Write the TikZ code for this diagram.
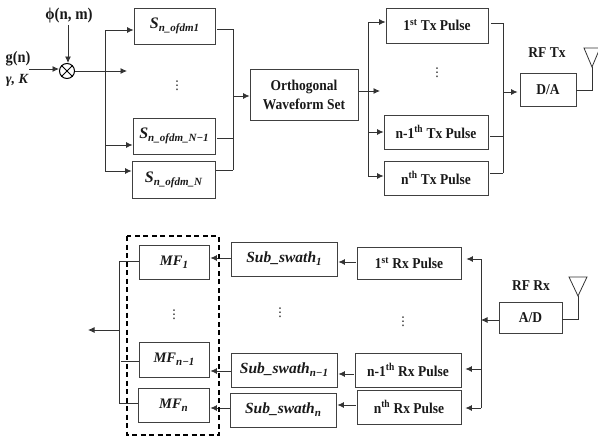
\documentclass[tikz,border=0pt]{standalone}
\usepackage{fontspec}
\setmainfont[FakeStretch=0.9]{Liberation Serif}
\newfontfamily\mthfont{Liberation Serif}
\newfontfamily\dotfont{DejaVu Sans}
\usetikzlibrary{arrows.meta,calc}
\tikzset{
  x=1pt,y=-1pt,
  wire/.style={draw=black!80,line width=0.8pt},
  arrowline/.style={wire,-{Latex[length=6.5pt,width=6pt]}},
  lbl/.style={inner sep=0pt,font=\fontsize{15}{17}\selectfont\bfseries,align=center,text=black!90},
  vdotsmark/.style={inner sep=0pt,font=\dotfont\fontsize{12}{12}\selectfont,text=black!95},
  boxframe/.style={draw=black!75,line width=0.9pt,inner sep=0pt,font=\fontsize{15}{17}\selectfont\bfseries,align=center,text=black!90},
}
\newcommand{\bx}[6]{%
  \pgfmathsetmacro{\bw}{#4-#2}\pgfmathsetmacro{\bh}{#5-#3}%
  \node[boxframe,minimum width=\bw pt,minimum height=\bh pt] (#1) at ({(#2+#4)/2},{(#3+#5)/2}) {#6};}
\newcommand{\mth}[3]{{\mthfont\bfseries\itshape\fontsize{#1}{17}\selectfont #2\raisebox{-3pt}{\fontsize{11}{12}\selectfont #3}}}
\begin{document}
\begin{tikzpicture}
\useasboundingbox (0,0) rectangle (598,439);
\clip (0,0) rectangle (598,439);
% upper row boxes
\bx{sa}{134}{8}{215}{44}{\mth{16}{S}{n\_ofdm1}}
\bx{sb}{133}{118}{215}{154}{\mth{16}{S}{n\_ofdm\_N−1}}
\bx{sc}{132}{161}{215}{198}{\mth{16}{S}{n\_ofdm\_N}}
\bx{orth}{250}{69}{358}{120}{Orthogonal\\[2pt]Waveform Set}
\bx{txa}{386}{8}{488}{43}{1\textsuperscript{st} Tx Pulse}
\bx{txb}{384}{115}{488}{149}{n-1\textsuperscript{th} Tx Pulse}
\bx{txc}{384}{161}{488}{195}{n\textsuperscript{th} Tx Pulse}
\bx{da}{520}{73}{576}{106}{D/A}
% lower row boxes
\bx{mfa}{139}{245}{209}{279}{\mth{14.5}{MF}{1}}
\bx{mfb}{139}{342}{209}{377}{\mth{14.5}{MF}{n−1}}
\bx{mfc}{138}{388}{209}{422}{\mth{14.5}{MF}{n}}
\bx{suba}{231}{242}{337}{276}{\mth{15.5}{Sub\_swath}{1}}
\bx{subb}{231}{353}{337}{387}{\mth{15.5}{Sub\_swath}{n−1}}
\bx{subc}{230}{393}{336}{427}{\mth{15.5}{Sub\_swath}{n}}
\bx{rxa}{357}{247}{461}{279}{1\textsuperscript{st} Rx Pulse}
\bx{rxb}{355}{353}{461}{387}{n-1\textsuperscript{th} Rx Pulse}
\bx{rxc}{357}{390}{461}{424}{n\textsuperscript{th} Rx Pulse}
\bx{ad}{499}{302}{562}{333}{A/D}
% labels
\node[lbl] (gn) at (18,59) {\fontsize{16}{18}\selectfont g(n)};
\node[lbl] (gk) at (17,80) {{\mthfont\bfseries\itshape\fontsize{14}{16}\selectfont γ, K}};
\node[lbl] (phi) at (69,16) {\fontsize{16.5}{18}\selectfont ϕ(n, m)};
\node[lbl] (rft) at (547,53) {RF Tx};
\node[lbl] (rfr) at (531,286) {RF Rx};
\node[vdotsmark] (da1) at (177,86) {⋮};
\node[vdotsmark] (da2) at (437,73) {⋮};
\node[vdotsmark] (da3) at (174,315) {⋮};
\node[vdotsmark] (da4) at (280,313) {⋮};
\node[vdotsmark] (da5) at (403,322) {⋮};
% mixer
\node[circle,draw=black,line width=1pt,minimum size=15pt,inner sep=0pt] (mix) at (67,71) {};
\draw[black,line width=1pt] (mix.45) -- (mix.225) (mix.135) -- (mix.315);
% free points
\coordinate (gend) at (29,69);
\coordinate (phiend) at (68,25);
\coordinate (midA) at (127,71);
\coordinate (busAt) at (105,30);
\coordinate (busAm) at (105,145);
\coordinate (busAb) at (105,171);
\coordinate (colAt) at (233,29);
\coordinate (colAm) at (233,138);
\coordinate (colAb) at (233,170);
\coordinate (colAo) at (233,96);
\coordinate (midB) at (380,91);
\coordinate (busBo) at (359,91);
\coordinate (busBt) at (368,22);
\coordinate (busBm) at (368,132);
\coordinate (busBb) at (368,176);
\coordinate (colBt) at (503,23);
\coordinate (colBm) at (503,136);
\coordinate (colBb) at (503,173);
\coordinate (colBa) at (503,92);
\coordinate (antTa) at (584,48);
\coordinate (antTb) at (600,48);
\coordinate (antTc) at (592,67);
\coordinate (antTd) at (592,90);
\coordinate (antRa) at (569,277);
\coordinate (antRb) at (587,277);
\coordinate (antRc) at (578,296);
\coordinate (antRd) at (578,319);
\coordinate (busCt) at (481,259);
\coordinate (busCm) at (481,369);
\coordinate (busCb) at (481,408);
\coordinate (busCa) at (481,320);
\coordinate (outT) at (119,261);
\coordinate (outM) at (119,361);
\coordinate (outB) at (119,403);
\coordinate (outA) at (119,330);
\coordinate (outE) at (88,330);
\coordinate (lvA) at (0,262);
\coordinate (lvB) at (0,374);
\coordinate (lvC) at (0,405);
\coordinate (lmA) at (0,258);
\coordinate (lmB) at (0,371);
\coordinate (lmC) at (0,408);
% upper connectors
\draw[arrowline] (gend) -- (mix.west |- gend);
\draw[arrowline] (phiend) -- (phiend |- mix.north);
\draw[arrowline] (mix.east) -- (midA);
\draw[wire] (busAt) -- (busAb);
\draw[arrowline] (busAt) -- (sa.west |- busAt);
\draw[arrowline] (busAm) -- (sb.west |- busAm);
\draw[arrowline] (busAb) -- (sc.west |- busAb);
\draw[wire] ([xshift=2pt]sa.east |- colAt) -- (colAt);
\draw[wire] ([xshift=2pt]sb.east |- colAm) -- (colAm);
\draw[wire] ([xshift=1pt]sc.east |- colAb) -- (colAb);
\draw[wire] (colAt) -- (colAb);
\draw[arrowline] (colAo) -- (orth.west |- colAo);
\draw[arrowline] (busBo) -- (midB);
\draw[wire] (busBt) -- (busBb);
\draw[arrowline] (busBt) -- (txa.west |- busBt);
\draw[arrowline] (busBm) -- (txb.west |- busBm);
\draw[arrowline] (busBb) -- (txc.west |- busBb);
\draw[wire] ([xshift=3pt]txa.east |- colBt) -- (colBt);
\draw[wire] ([xshift=2pt]txb.east |- colBm) -- (colBm);
\draw[wire] ([xshift=2pt]txc.east |- colBb) -- (colBb);
\draw[wire] (colBt) -- (colBb);
\draw[arrowline] (colBa) -- ([xshift=-2pt]da.west |- colBa);
\draw[wire] (da.east |- antTd) -- (antTd) -- (antTc);
\draw[wire] (antTa) -- (antTb) -- (antTc) -- cycle;
% lower connectors
\draw[wire] (ad.east |- antRd) -- (antRd) -- (antRc);
\draw[wire] (antRa) -- (antRb) -- (antRc) -- cycle;
\draw[arrowline] (ad.west |- busCa) -- (busCa);
\draw[wire] (busCt) -- (busCb);
\draw[arrowline] (busCt) -- ([xshift=5pt]rxa.east |- busCt);
\draw[arrowline] (busCm) -- ([xshift=4pt]rxb.east |- busCm);
\draw[arrowline] (busCb) -- ([xshift=4pt]rxc.east |- busCb);
\draw[arrowline] ([xshift=-1pt]rxa.west |- lvA) -- ([xshift=1pt]suba.east |- lvA);
\draw[arrowline] ([xshift=-1pt]rxb.west |- lvB) -- ([xshift=1pt]subb.east |- lvB);
\draw[arrowline] ([xshift=-1pt]rxc.west |- lvC) -- ([xshift=1pt]subc.east |- lvC);
\draw[arrowline] (suba.west |- lmA) -- ([xshift=1pt]mfa.east |- lmA);
\draw[arrowline] (subb.west |- lmB) -- ([xshift=1pt]mfb.east |- lmB);
\draw[arrowline] (subc.west |- lmC) -- ([xshift=1pt]mfc.east |- lmC);
\draw[wire] (outT) -- (mfa.west |- outT);
\draw[wire] ([xshift=2pt]outM) -- (mfb.west |- outM);
\draw[wire] (outB) -- (mfc.west |- outB);
\draw[wire] (outT) -- (outB);
\draw[arrowline] (outA) -- (outE);
% dashed group
\draw[black,line width=1.4pt,dash pattern=on 5pt off 3.5pt] (127,236) rectangle (219,435);
\end{tikzpicture}
\end{document}
